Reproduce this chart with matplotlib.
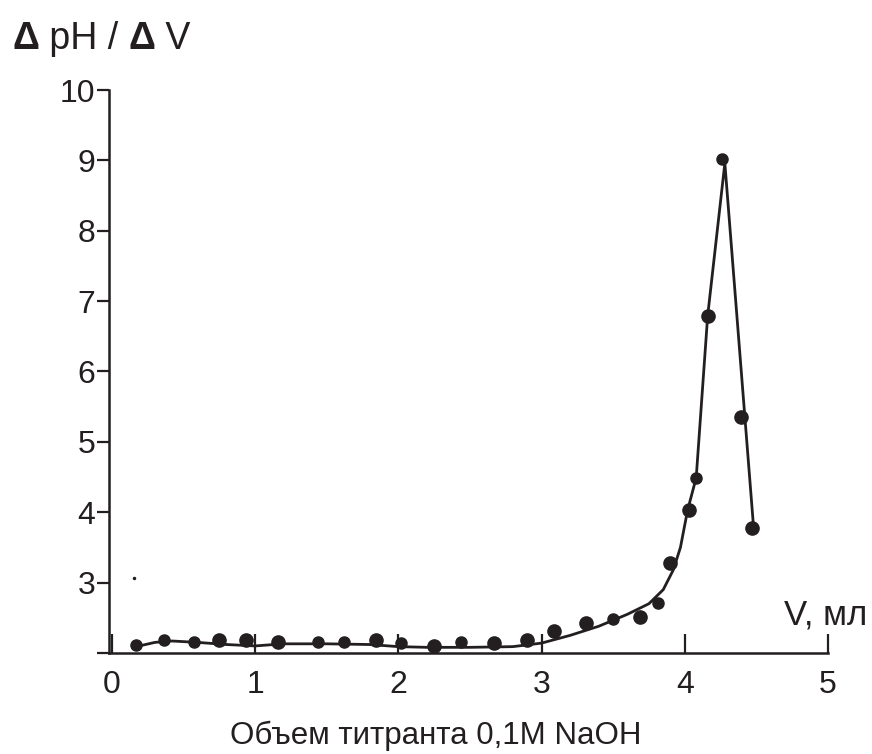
import matplotlib.pyplot as plt
import numpy as np

plt.rcParams['font.family'] = ['Liberation Sans', 'DejaVu Sans']

ink = '#231f20'

# measured points (V, ml ; dpH/dV)
vol = [0.17, 0.365, 0.575, 0.75, 0.936, 1.157, 1.436, 1.618, 1.844, 2.018, 2.25, 2.44,
       2.67, 2.90, 3.09, 3.31, 3.50, 3.69, 3.81, 3.90, 4.03, 4.08, 4.164, 4.257, 4.39, 4.47]
dph = [2.12, 2.18, 2.15, 2.19, 2.18, 2.15, 2.15, 2.15, 2.18, 2.14, 2.10, 2.15,
       2.14, 2.18, 2.31, 2.43, 2.48, 2.51, 2.71, 3.28, 4.03, 4.49, 6.79, 9.02, 5.35, 3.78]
big = [False, False, False, True, True, True, False, False, True, False, True, False,
       True, True, True, True, False, True, False, True, True, False, True, False, True, True]

# hand drawn curve
curve_v = [0.17, 0.30, 0.42, 0.60, 0.80, 1.00, 1.20, 1.50, 1.80, 2.00, 2.20, 2.50, 2.80,
           3.00, 3.20, 3.40, 3.60, 3.75, 3.85, 3.92, 3.97, 4.02, 4.08, 4.16, 4.28, 4.48]
curve_y = [2.09, 2.15, 2.17, 2.15, 2.12, 2.10, 2.13, 2.13, 2.12, 2.09, 2.08, 2.08, 2.09,
           2.14, 2.25, 2.38, 2.55, 2.70, 2.90, 3.18, 3.50, 4.03, 4.49, 6.79, 8.96, 3.80]

stray = (0.154, 3.07)

yticks = [2, 3, 4, 5, 6, 7, 8, 9, 10]
ylabels = ['', '3', '4', '5', '6', '7', '8', '9', '10']
xticks = [0, 1, 2, 3, 4, 5]

fig = plt.figure(figsize=(8.72, 7.54), dpi=100)
ax = fig.add_axes([0.125, 0.134, 0.8245, 0.7466])

ax.plot(curve_v, curve_y, color=ink, lw=2.0, zorder=2)
v = np.array(vol); d = np.array(dph); b = np.array(big)
ax.plot(v[~b], d[~b], 'o', color=ink, ms=8, zorder=3)
ax.plot(v[b], d[b], 'o', color=ink, ms=9.5, zorder=3)
ax.plot(*stray, 'o', color=ink, ms=1.5)

ax.set_xlim(-0.02, 5)
ax.set_ylim(2, 10)
ax.set_xticks(xticks)
ax.set_yticks(yticks)
ax.set_yticklabels(ylabels)

for s in ['top', 'right']:
    ax.spines[s].set_visible(False)
for s in ['left', 'bottom']:
    ax.spines[s].set_linewidth(1.8)
    ax.spines[s].set_color(ink)

ax.tick_params(axis='x', direction='in', length=14, width=1.6, color=ink,
               labelsize=23, pad=12, labelcolor=ink)
ax.tick_params(axis='y', direction='out', length=9, width=1.6, color=ink,
               labelsize=23, pad=1, labelcolor=ink)

fig.text(0.5, 1 - 736 / 754, 'Объем титранта 0,1M NaOH', ha='center', va='center',
         fontsize=22.5, color=ink)
fig.text(867 / 872, 1 - 615 / 754, 'V, мл', ha='right', va='center', fontsize=25, color=ink)

t = fig.text(12 / 872, 0.924, 'Δ', fontsize=27, weight='bold', va='bottom', color=ink)
parts = [(' pH / ', 'normal'), ('Δ', 'bold'), (' V', 'normal')]
for s, w in parts:
    t = ax.annotate(s, xy=(1, 0), xycoords=t, va='bottom', ha='left',
                    fontsize=27, weight=w, color=ink, annotation_clip=False)

fig.savefig('out.png', dpi=100)
